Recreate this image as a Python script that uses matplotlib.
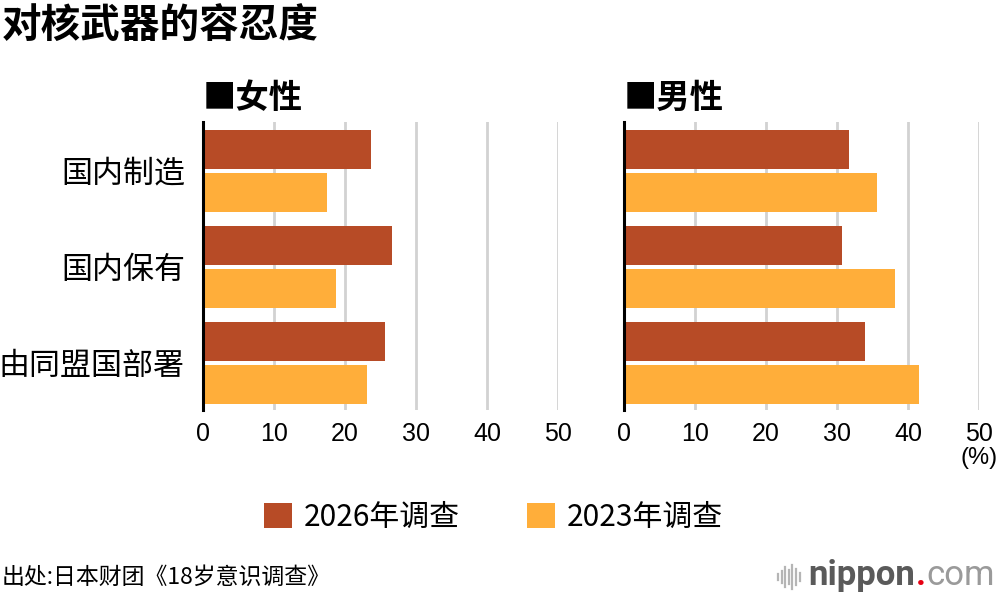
import numpy as np
import matplotlib
matplotlib.use("Agg")
import matplotlib.pyplot as plt
from matplotlib.patches import Patch
from matplotlib.lines import Line2D

plt.rcParams['font.family'] = ['Noto Sans CJK SC', 'DejaVu Sans']

categories = ["国内制造", "国内保有", "由同盟国部署"]
female_2026 = [23.7, 26.6, 25.6]
female_2023 = [17.5, 18.7, 23.1]
male_2026 = [31.7, 30.7, 34.0]
male_2023 = [35.7, 38.2, 41.5]
panel_titles = ["■女性", "■男性"]
legend_labels = ["2026年调查", "2023年调查"]
x_ticks = [0, 10, 20, 30, 40, 50]

c_new = '#B74B26'
c_old = '#FFAE3A'

fig = plt.figure(figsize=(10, 5.98), dpi=100)
ax_f = fig.add_axes([0.203, 0.3144, 0.355, 0.4816])
ax_m = fig.add_axes([0.624, 0.3144, 0.355, 0.4816])

y = np.arange(len(categories))
off = 0.224
h = 0.406

for ax, new, old, title in [(ax_f, female_2026, female_2023, panel_titles[0]),
                            (ax_m, male_2026, male_2023, panel_titles[1])]:
    ax.barh(y - off, new, height=h, color=c_new, zorder=3)
    ax.barh(y + off, old, height=h, color=c_old, zorder=3)
    ax.set_xlim(0, 50)
    ax.set_ylim(2.49, -0.51)
    ax.set_xticks(x_ticks)
    ax.set_xticklabels([str(v) for v in x_ticks], fontsize=18, family='Liberation Sans')
    ax.xaxis.grid(True, color='#d2d2d2', linewidth=2, zorder=0)
    ax.tick_params(axis='both', length=0)
    ax.tick_params(axis='x', pad=9)
    for s in ['top', 'right', 'bottom']:
        ax.spines[s].set_visible(False)
    ax.spines['left'].set_linewidth(2.2)
    ax.spines['left'].set_color('black')
    ax.spines['left'].set_zorder(4)
    ax.text(0.0, 1.025, title, transform=ax.transAxes, fontsize=24,
            fontweight='bold', ha='left', va='bottom')

ax_f.set_yticks(y)
ax_f.set_yticklabels(categories, fontsize=22.3)
ax_f.tick_params(axis='y', pad=13)
ax_m.set_yticks([])

fig.text(0.979, 0.234, "(%)", fontsize=17, family='Liberation Sans', ha='center', va='center')

fig.text(0.002, 0.957, "对核武器的容忍度", fontsize=28.5, fontweight='bold', ha='left', va='center')

handles = [Patch(facecolor=c_new), Patch(facecolor=c_old)]
fig.legend(handles, legend_labels, loc='center', bbox_to_anchor=(0.4935, 0.135),
           ncol=2, frameon=False, fontsize=21.5, handlelength=0.93, handleheight=0.93,
           handletextpad=0.4, columnspacing=2.27)

fig.text(0.002, 0.034, "出处:日本财团《18岁意识调查》", fontsize=16.5, ha='left', va='center')

# nippon.com logo
heights = [6, 12, 20, 14, 24, 16, 8]
for i, hh in enumerate(heights):
    xx = (778 + i * 3.6) / 1000
    fig.add_artist(Line2D([xx, xx], [(598 - 577 - hh / 2) / 598, (598 - 577 + hh / 2) / 598],
                          color='#b5b5b5', linewidth=1.6))
t1 = fig.text(0.808, 0.022, "nippon", fontsize=25, fontweight='bold', color='#5a5a5a',
              family='Roboto', ha='left', va='baseline')
t2 = fig.text(0, 0.022, ".", fontsize=25, fontweight='bold', color='#e60012',
              family='Roboto', va='baseline')
t3 = fig.text(0, 0.022, "com", fontsize=25, color='#9a9a9a', family='Roboto', va='baseline')
fig.canvas.draw()
r = fig.canvas.get_renderer()
bb1 = t1.get_window_extent(r)
t2.set_x(bb1.x1 / 1000 + 0.001)
fig.canvas.draw()
bb2 = t2.get_window_extent(r)
t3.set_x(bb2.x1 / 1000 + 0.001)

fig.savefig("out.png", dpi=100, facecolor='white')
